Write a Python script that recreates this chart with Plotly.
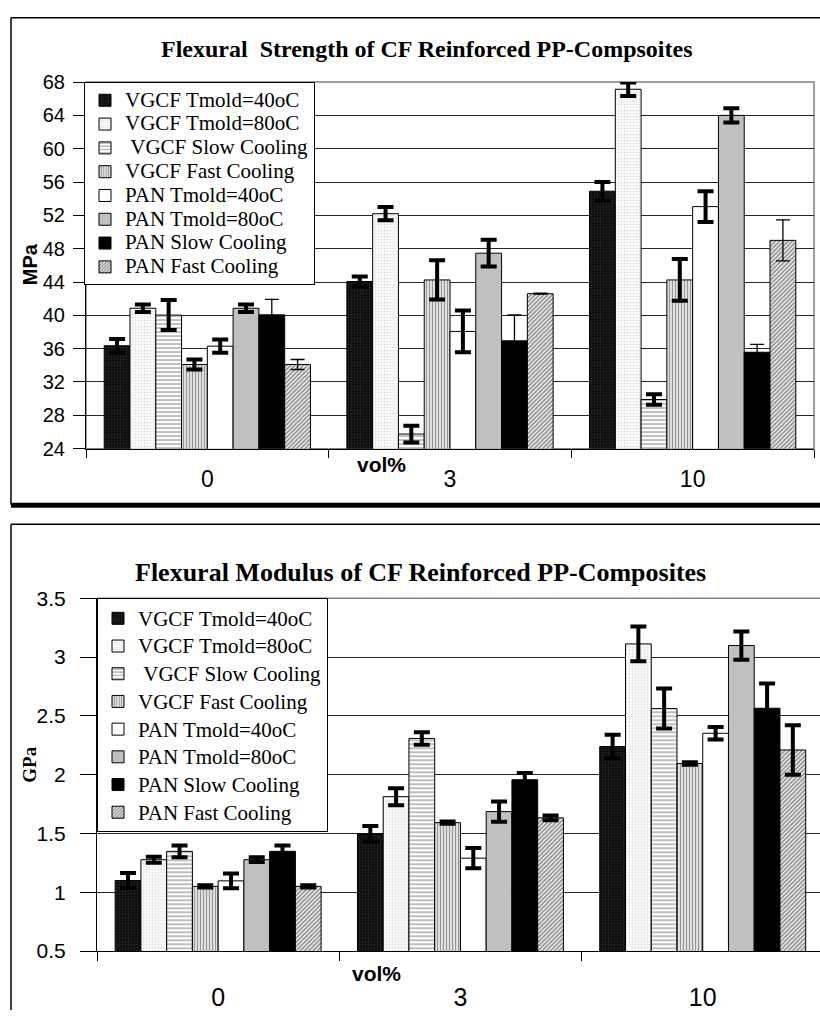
import plotly.graph_objects as go

# ---------------- data ----------------
categories = ["0", "3", "10"]

series_names = [
    "VGCF Tmold=40oC",
    "VGCF Tmold=80oC",
    "\u00a0VGCF Slow Cooling",
    "VGCF Fast Cooling",
    "PAN Tmold=40oC",
    "PAN Tmold=80oC",
    "PAN Slow Cooling",
    "PAN Fast Cooling",
]

# Flexural strength (MPa) and standard deviations
strength_vgcf_40 = [36.35, 44.06, 54.9]
strength_vgcf_80 = [40.85, 52.2, 67.14]
strength_vgcf_slow = [40.03, 25.75, 29.9]
strength_vgcf_fast = [34.1, 44.25, 44.25]
strength_pan_40 = [36.3, 38.07, 53.05]
strength_pan_80 = [40.85, 47.46, 64.0]
strength_pan_slow = [40.06, 36.94, 35.57]
strength_pan_fast = [34.1, 42.6, 49.0]

strength_err_vgcf_40 = [0.8, 0.6, 1.1]
strength_err_vgcf_80 = [0.45, 0.8, 0.8]
strength_err_vgcf_slow = [1.8, 1.0, 0.63]
strength_err_vgcf_fast = [0.6, 2.35, 2.5]
strength_err_pan_40 = [0.8, 2.5, 1.84]
strength_err_pan_80 = [0.45, 1.6, 0.86]
strength_err_pan_slow = [1.85, 3.1, 0.94]
strength_err_pan_fast = [0.6, 0.05, 2.46]

# Flexural modulus (GPa) and standard deviations
modulus_vgcf_40 = [1.10, 1.497, 2.239]
modulus_vgcf_80 = [1.277, 1.813, 3.112]
modulus_vgcf_slow = [1.348, 2.308, 2.562]
modulus_vgcf_fast = [1.05, 1.592, 2.095]
modulus_pan_40 = [1.097, 1.29, 2.352]
modulus_pan_80 = [1.277, 1.686, 3.098]
modulus_pan_slow = [1.348, 1.957, 2.565]
modulus_pan_fast = [1.05, 1.633, 2.21]

modulus_err_vgcf_40 = [0.064, 0.066, 0.10]
modulus_err_vgcf_80 = [0.025, 0.072, 0.148]
modulus_err_vgcf_slow = [0.05, 0.053, 0.17]
modulus_err_vgcf_fast = [0.01, 0.01, 0.01]
modulus_err_pan_40 = [0.062, 0.086, 0.053]
modulus_err_pan_80 = [0.02, 0.086, 0.12]
modulus_err_pan_slow = [0.05, 0.058, 0.21]
modulus_err_pan_fast = [0.01, 0.02, 0.21]

strength_ticks = [24, 28, 32, 36, 40, 44, 48, 52, 56, 60, 64, 68]
modulus_ticks = [0.5, 1, 1.5, 2, 2.5, 3, 3.5]

strength_values = [strength_vgcf_40, strength_vgcf_80, strength_vgcf_slow, strength_vgcf_fast,
                   strength_pan_40, strength_pan_80, strength_pan_slow, strength_pan_fast]
strength_errors = [strength_err_vgcf_40, strength_err_vgcf_80, strength_err_vgcf_slow,
                   strength_err_vgcf_fast, strength_err_pan_40, strength_err_pan_80,
                   strength_err_pan_slow, strength_err_pan_fast]
modulus_values = [modulus_vgcf_40, modulus_vgcf_80, modulus_vgcf_slow, modulus_vgcf_fast,
                  modulus_pan_40, modulus_pan_80, modulus_pan_slow, modulus_pan_fast]
modulus_errors = [modulus_err_vgcf_40, modulus_err_vgcf_80, modulus_err_vgcf_slow,
                  modulus_err_vgcf_fast, modulus_err_pan_40, modulus_err_pan_80,
                  modulus_err_pan_slow, modulus_err_pan_fast]

# ---------------- styling ----------------
SERIF = "Liberation Serif, Times New Roman, serif"
SANS = "Liberation Sans, Arial, sans-serif"
W, H = 820, 1021

fills = [
    dict(color="#0a0a0a", pattern=dict(shape=".", bgcolor="#0a0a0a", fgcolor="#4a4a4a", size=3, solidity=0.3)),
    dict(color="#ffffff", pattern=dict(shape=".", bgcolor="#ffffff", fgcolor="#bdbdbd", size=3, solidity=0.4)),
    dict(color="#ffffff", pattern=dict(shape="-", bgcolor="#ffffff", fgcolor="#6e6e6e", size=4, solidity=0.45)),
    dict(color="#ffffff", pattern=dict(shape="|", bgcolor="#ffffff", fgcolor="#303030", size=3, solidity=0.55)),
    dict(color="#ffffff"),
    dict(color="#c0c0c0"),
    dict(color="#000000"),
    dict(color="#ffffff", pattern=dict(shape="/", bgcolor="#ffffff", fgcolor="#222222", size=3, solidity=0.6)),
]

# thin error bars for the PAN cooling series in the strength chart
strength_thin = [False, False, False, False, False, False, True, True]


def px_x(x):
    return x / W


def px_y(y):
    return 1 - y / H


def legend_label(name):
    return f'<span style="font-size:21px">{name}</span>'


fig = go.Figure()

for i, name in enumerate(series_names):
    thin = strength_thin[i]
    fig.add_trace(go.Bar(
        x=categories, y=strength_values[i], name=legend_label(name),
        xaxis="x", yaxis="y", legend="legend", legendgroup=f"s{i}",
        marker=dict(line=dict(color="black", width=1), **fills[i]),
        error_y=dict(type="data", array=strength_errors[i], visible=True, color="black",
                     thickness=1.3 if thin else 4, width=7 if thin else 8),
    ))

for i, name in enumerate(series_names):
    fig.add_trace(go.Bar(
        x=categories, y=modulus_values[i], name=legend_label(name),
        xaxis="x2", yaxis="y2", legend="legend2", legendgroup=f"m{i}",
        marker=dict(line=dict(color="black", width=1), **fills[i]),
        error_y=dict(type="data", array=modulus_errors[i], visible=True, color="black",
                     thickness=4, width=8),
    ))

top_y0, top_y1 = px_y(446.7), px_y(71.7)
bot_y0, bot_y1 = px_y(960.7), px_y(599.8)

axis_common = dict(showline=True, linecolor="black", linewidth=1, ticks="outside",
                   tickcolor="black", zeroline=False)

fig.update_layout(
    width=W, height=H, margin=dict(l=0, r=0, t=0, b=0),
    paper_bgcolor="white", plot_bgcolor="white",
    barmode="group", bargap=0.15, bargroupgap=0,
    font=dict(family=SERIF, color="black"),
    xaxis=dict(domain=[px_x(86), px_x(814)], anchor="y", type="category",
               range=[-0.5, 2.5], tickson="boundaries", ticklen=8,
               showgrid=False, tickfont=dict(family=SANS, size=23),
               ticklabelstandoff=10, **axis_common),
    yaxis=dict(domain=[top_y0, top_y1], anchor="x", range=[24, 68],
               tickvals=strength_ticks, ticklen=12, showgrid=True,
               gridcolor="#262626", gridwidth=1,
               tickfont=dict(family=SANS, size=20), ticklabelstandoff=4,
               **axis_common),
    xaxis2=dict(domain=[px_x(97), 1.0], anchor="y2", type="category",
                range=[-0.5, 2.484], tickson="boundaries", ticklen=9,
                showgrid=False, tickfont=dict(family=SANS, size=25),
                ticklabelstandoff=24, **axis_common),
    yaxis2=dict(domain=[bot_y0, bot_y1], anchor="x2", range=[0.5, 3.5],
                tickvals=modulus_ticks, ticktext=[f"{v:g}" for v in modulus_ticks],
                ticklen=16, showgrid=True, gridcolor="#262626", gridwidth=1,
                tickfont=dict(family=SANS, size=21), ticklabelstandoff=10,
                **axis_common),
    legend=dict(x=px_x(84), y=px_y(72), xanchor="left", yanchor="top",
                bgcolor="white", bordercolor="black", borderwidth=1,
                font=dict(family=SERIF, size=16, color="black"),
                tracegroupgap=0, traceorder="normal", itemwidth=30),
    legend2=dict(x=px_x(97), y=px_y(600), xanchor="left", yanchor="top",
                 bgcolor="white", bordercolor="black", borderwidth=1,
                 font=dict(family=SERIF, size=19, color="black"),
                 tracegroupgap=0, traceorder="normal", itemwidth=30),
    showlegend=True,
)

shapes = [
    # grey top / right edges of both plot areas
    dict(type="rect", xref="x domain", yref="y domain", x0=0, x1=1, y0=0, y1=1,
         line=dict(color="#808080", width=1.5), layer="below"),
    dict(type="line", xref="x2 domain", yref="y2 domain", x0=0, x1=1, y0=1, y1=1,
         line=dict(color="#808080", width=1.5), layer="below"),
    # frame of the strength chart
    dict(type="line", xref="paper", yref="paper", x0=px_x(11), x1=1.0, y0=px_y(6), y1=px_y(6),
         line=dict(color="black", width=1.5)),
    dict(type="line", xref="paper", yref="paper", x0=px_x(11), x1=px_x(11), y0=px_y(6), y1=px_y(504),
         line=dict(color="black", width=1.5)),
    dict(type="line", xref="paper", yref="paper", x0=px_x(11), x1=1.0, y0=px_y(504.5), y1=px_y(504.5),
         line=dict(color="black", width=5)),
    # frame of the modulus chart
    dict(type="line", xref="paper", yref="paper", x0=px_x(11), x1=1.0, y0=px_y(524), y1=px_y(524),
         line=dict(color="black", width=1.5)),
    dict(type="line", xref="paper", yref="paper", x0=px_x(11), x1=px_x(11), y0=px_y(524), y1=0,
         line=dict(color="black", width=1.5)),
]
fig.update_layout(shapes=shapes)

annotations = [
    dict(text="<b>Flexural\u00a0 Strength of CF Reinforced PP-Compsoites</b>", x=px_x(426), y=px_y(38),
         xref="paper", yref="paper", showarrow=False, xanchor="center", yanchor="middle",
         font=dict(family=SERIF, size=24)),
    dict(text="<b>Flexural Modulus of CF Reinforced PP-Composites</b>", x=px_x(420), y=px_y(573),
         xref="paper", yref="paper", showarrow=False, xanchor="center", yanchor="middle",
         font=dict(family=SERIF, size=26)),
    dict(text="<b>MPa</b>", x=px_x(30), y=px_y(258), xref="paper", yref="paper", showarrow=False,
         textangle=-90, xanchor="center", yanchor="middle", font=dict(family=SANS, size=20)),
    dict(text="<b>GPa</b>", x=px_x(30), y=px_y(770), xref="paper", yref="paper", showarrow=False,
         textangle=-90, xanchor="center", yanchor="middle", font=dict(family=SERIF, size=19)),
    dict(text="<b>vol%</b>", x=px_x(381), y=px_y(463), xref="paper", yref="paper", showarrow=False,
         xanchor="center", yanchor="middle", font=dict(family=SANS, size=21)),
    dict(text="<b>vol%</b>", x=px_x(376), y=px_y(984), xref="paper", yref="paper", showarrow=False,
         xanchor="center", yanchor="middle", font=dict(family=SANS, size=21)),
]
fig.update_layout(annotations=annotations)

fig.write_html("out.html")
